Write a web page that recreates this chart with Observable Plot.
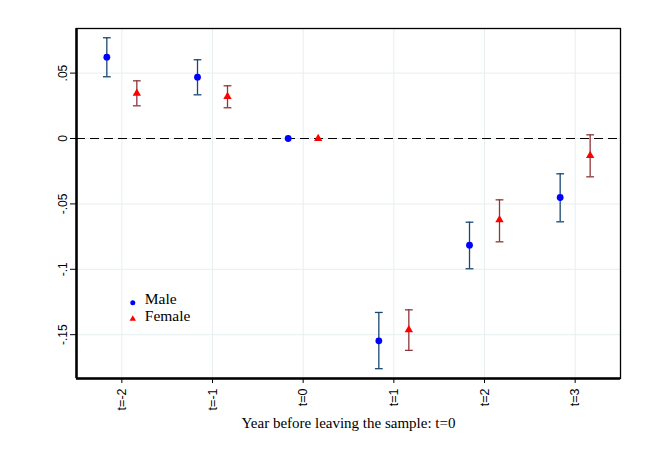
<!DOCTYPE html>
<html><head><meta charset="utf-8">
<script src="https://cdn.jsdelivr.net/npm/d3@7"></script>
<script src="https://cdn.jsdelivr.net/npm/@observablehq/plot@0.6"></script>
<style>body{margin:0;background:#fff}</style>
</head><body><div id="chart"></div>
<script>
const periods = [-2, -1, 0, 1, 2, 3];
const tickLabels = ["t=-2", "t=-1", "t=0", "t=1", "t=2", "t=3"];
const maleEst = [0.0622, 0.0469, 0, -0.1547, -0.0816, -0.0451];
const maleLo = [0.0472, 0.0334, 0, -0.176, -0.0996, -0.0637];
const maleHi = [0.077, 0.0602, 0, -0.133, -0.064, -0.027];
const femaleEst = [0.0346, 0.0321, 0, -0.1463, -0.0622, -0.013];
const femaleLo = [0.025, 0.0235, 0, -0.162, -0.079, -0.0293];
const femaleHi = [0.0441, 0.0403, 0, -0.131, -0.0469, 0.0028];
const yTicks = [0.05, 0, -0.05, -0.1, -0.15];
const yTickLabels = [".05", "0", "-.05", "-.1", "-.15"];
const xDomain = [-2.5, 3.5];
const yDomain = [-0.1835, 0.0841];
const xTitle = "Year before leaving the sample: t=0";
const legendLabels = ["Male", "Female"];

const male = periods.map((t, i) => ({t, est: maleEst[i], lo: maleLo[i], hi: maleHi[i]}));
const female = periods.map((t, i) => ({t, est: femaleEst[i], lo: femaleLo[i], hi: femaleHi[i]}));
const maleCI = male.filter(d => d.lo !== d.hi);
const femaleCI = female.filter(d => d.lo !== d.hi);

const navy = "#1a476f", maroon = "#90353b", blue = "#0000ff", red = "#ff0000";
const grid = "#e6eef0";
const serif = "'Liberation Serif', 'Times New Roman', serif";
const sans = "'Liberation Sans', Arial, sans-serif";
const cap = {draw(ctx, size) { const w = Math.sqrt(size); ctx.moveTo(-w, 0); ctx.lineTo(w, 0); }};
const mdx = -15, fdx = 15;

const chart = Plot.plot({
  width: 670,
  height: 456,
  marginLeft: 76,
  marginRight: 50,
  marginTop: 28,
  marginBottom: 78,
  style: {background: "#fff", overflow: "visible"},
  x: {domain: xDomain},
  y: {domain: yDomain},
  marks: [
    Plot.gridX(periods, {stroke: grid, strokeOpacity: 1, strokeWidth: 1}),
    Plot.gridY(yTicks, {stroke: grid, strokeOpacity: 1, strokeWidth: 1}),
    Plot.ruleY([0], {stroke: "#000", strokeWidth: 1.2, strokeDasharray: "9,5"}),
    Plot.frame({stroke: "#000", strokeWidth: 1.3}),
    Plot.ruleX([xDomain[0]], {stroke: "#000", strokeWidth: 2.5}),
    Plot.ruleY([yDomain[0]], {stroke: "#000", strokeWidth: 2.5}),
    Plot.axisY(yTicks, {
      tickFormat: d => yTickLabels[yTicks.indexOf(d)],
      tickRotate: -90, tickSize: 6, tickPadding: 4,
      fontSize: 12, fontFamily: sans, stroke: "#000", color: "#000", label: null
    }),
    Plot.axisX(periods, {
      tickFormat: d => tickLabels[periods.indexOf(d)],
      tickRotate: -90, tickSize: 5, tickPadding: 5,
      fontSize: 12.5, fontFamily: sans, color: "#000", label: null
    }),
    Plot.ruleX(maleCI, {x: "t", y1: "lo", y2: "hi", dx: mdx, stroke: navy, strokeWidth: 1.3}),
    Plot.dot(maleCI, {x: "t", y: "lo", dx: mdx, symbol: cap, r: 2.2, fill: "none", stroke: navy, strokeWidth: 1.3}),
    Plot.dot(maleCI, {x: "t", y: "hi", dx: mdx, symbol: cap, r: 2.2, fill: "none", stroke: navy, strokeWidth: 1.3}),
    Plot.ruleX(femaleCI, {x: "t", y1: "lo", y2: "hi", dx: fdx, stroke: maroon, strokeWidth: 1.3}),
    Plot.dot(femaleCI, {x: "t", y: "lo", dx: fdx, symbol: cap, r: 2.2, fill: "none", stroke: maroon, strokeWidth: 1.3}),
    Plot.dot(femaleCI, {x: "t", y: "hi", dx: fdx, symbol: cap, r: 2.2, fill: "none", stroke: maroon, strokeWidth: 1.3}),
    Plot.dot(male, {x: "t", y: "est", dx: mdx, fill: blue, r: 3.4, symbol: "circle"}),
    Plot.dot(female, {x: "t", y: "est", dx: fdx, fill: red, r: 3.1, symbol: "triangle"}),
    // legend
    Plot.dot([legendLabels[0]], {frameAnchor: "bottom-left", dx: 56.3, dy: -75.7, fill: blue, r: 2.5, symbol: "circle"}),
    Plot.dot([legendLabels[1]], {frameAnchor: "bottom-left", dx: 56.3, dy: -59.5, fill: red, r: 2.4, symbol: "triangle"}),
    Plot.text([legendLabels[0]], {text: d => d, frameAnchor: "bottom-left", dx: 68.3, dy: -74.5, textAnchor: "start", fontFamily: serif, fontSize: 15.5, fill: "#000"}),
    Plot.text([legendLabels[1]], {text: d => d, frameAnchor: "bottom-left", dx: 68.3, dy: -58, textAnchor: "start", fontFamily: serif, fontSize: 15.5, fill: "#000"}),
    Plot.text([xTitle], {text: d => d, frameAnchor: "bottom", dy: 49.5, fontFamily: serif, fontSize: 15, fill: "#000"})
  ]
});
document.getElementById("chart").appendChild(chart);
</script>
</body></html>
